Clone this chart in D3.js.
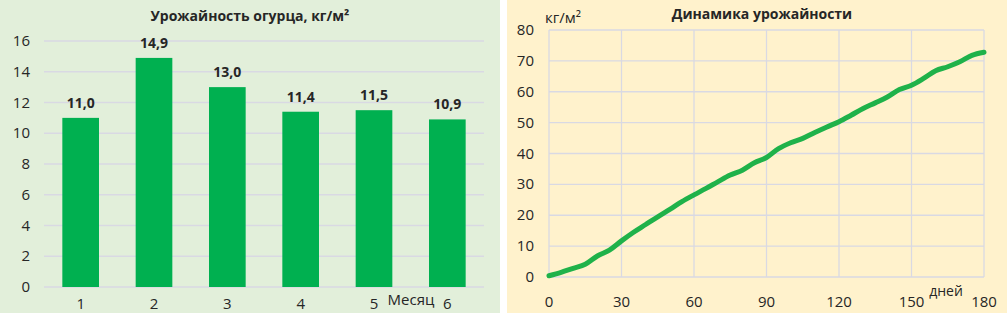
<!DOCTYPE html>
<html>
<head>
<meta charset="utf-8">
<script src="https://cdn.jsdelivr.net/npm/d3@7"></script>
<style>
  body { margin: 0; background: #fff; }
  svg { display: block; font-family: "Open Sans", "Noto Sans", sans-serif; }
  .grid line { stroke: #d9d9e3; stroke-width: 1.3; }
  .lbl { fill: #262626; font-size: 14px; }
</style>
</head>
<body>
<svg id="chart" width="1007" height="315"></svg>
<script>
// left chart: cucumber yield per month
const months = ["1", "2", "3", "4", "5", "6"];
const yieldVals = [11.0, 14.9, 13.0, 11.4, 11.5, 10.9];
const barTicks = [0, 2, 4, 6, 8, 10, 12, 14, 16];

// right chart: cumulative yield by day
const days = [0, 5, 10, 15, 20, 25, 30, 35, 40, 45, 50, 55, 60, 65, 70, 75, 80, 85, 90,
  95, 100, 105, 110, 115, 120, 125, 130, 135, 140, 145, 150, 155, 160, 165, 170, 175, 180];
const cumYield = [0.4, 1.5, 2.8, 4.1, 6.8, 8.7, 11.7, 14.5, 17.0, 19.5, 21.9, 24.4, 26.6, 28.7,
  30.9, 33.0, 34.6, 37.0, 38.7, 41.6, 43.5, 44.9, 46.8, 48.6, 50.3, 52.4, 54.6, 56.4, 58.3,
  60.7, 62.1, 64.3, 66.8, 68.1, 69.7, 71.8, 72.8];
const dayTicks = [0, 30, 60, 90, 120, 150, 180];
const lineTicks = [0, 10, 20, 30, 40, 50, 60, 70, 80];

const svg = d3.select("#chart");
const fmt = d => d.toFixed(1).replace(".", ",");

// ---- left panel ----
svg.append("rect").attr("x", 0).attr("y", 0).attr("width", 500).attr("height", 313).attr("fill", "#e2efda");

const xb = d3.scaleBand().domain(months).range([44, 484]).paddingInner(0.5).paddingOuter(0.25);
const yb = d3.scaleLinear().domain([0, 16]).range([287, 41]);

const gl = svg.append("g").attr("class", "grid");
gl.selectAll("line").data(barTicks).join("line")
  .attr("x1", 44).attr("x2", 484)
  .attr("y1", d => yb(d)).attr("y2", d => yb(d));

svg.append("g").selectAll("text").data(barTicks).join("text")
  .attr("class", "lbl").attr("x", 30).attr("y", d => yb(d) + 5)
  .attr("text-anchor", "end").style("font-size", "15px").text(d => d);

svg.append("g").selectAll("rect").data(yieldVals).join("rect")
  .attr("x", (d, i) => xb(months[i])).attr("width", xb.bandwidth())
  .attr("y", d => yb(d)).attr("height", d => yb(0) - yb(d))
  .attr("fill", "#00b050");

svg.append("g").selectAll("text").data(yieldVals).join("text")
  .attr("class", "lbl").attr("x", (d, i) => xb(months[i]) + xb.bandwidth() / 2)
  .attr("y", d => yb(d) - 10).attr("text-anchor", "middle")
  .style("font-weight", "bold").style("font-size", "14px").text(fmt);

svg.append("g").selectAll("text").data(months).join("text")
  .attr("class", "lbl").attr("x", d => xb(d) + xb.bandwidth() / 2).attr("y", 309)
  .attr("text-anchor", "middle").style("font-size", "15px").text(d => d);

svg.append("text").attr("class", "lbl").attr("x", 411).attr("y", 305)
  .attr("text-anchor", "middle").style("font-size", "15px").text("Месяц");

svg.append("text").attr("class", "lbl").attr("x", 250).attr("y", 21)
  .attr("text-anchor", "middle").style("font-weight", "bold").style("font-size", "14px")
  .text("Урожайность огурца, кг/м²");

// ---- right panel ----
svg.append("rect").attr("x", 507).attr("y", 0).attr("width", 500).attr("height", 313).attr("fill", "#fff2cc");

const xl = d3.scaleLinear().domain([0, 180]).range([549, 984]);
const yl = d3.scaleLinear().domain([0, 80]).range([277, 30]);

const gr = svg.append("g").attr("class", "grid");
gr.selectAll("line.h").data(lineTicks).join("line").attr("class", "h")
  .attr("x1", xl(0)).attr("x2", xl(180))
  .attr("y1", d => yl(d)).attr("y2", d => yl(d));
gr.selectAll("line.v").data(dayTicks).join("line").attr("class", "v")
  .attr("x1", d => xl(d)).attr("x2", d => xl(d))
  .attr("y1", yl(0)).attr("y2", yl(80));

svg.append("g").selectAll("text").data(lineTicks).join("text")
  .attr("class", "lbl").attr("x", 534).attr("y", d => yl(d) + 5)
  .attr("text-anchor", "end").style("font-size", "15px").text(d => d);

svg.append("g").selectAll("text").data(dayTicks).join("text")
  .attr("class", "lbl").attr("x", d => xl(d)).attr("y", 307)
  .attr("text-anchor", "middle").style("font-size", "15px").text(d => d);

svg.append("text").attr("class", "lbl").attr("x", 946).attr("y", 296)
  .attr("text-anchor", "middle").style("font-size", "14px").text("дней");

svg.append("text").attr("class", "lbl").attr("x", 545).attr("y", 23)
  .style("font-size", "15px").text("кг/м²");

svg.append("text").attr("class", "lbl").attr("x", 762).attr("y", 19)
  .attr("text-anchor", "middle").style("font-weight", "bold").style("font-size", "14px")
  .text("Динамика урожайности");

const line = d3.line().x((d, i) => xl(days[i])).y(d => yl(d)).curve(d3.curveCatmullRom);
svg.append("path").datum(cumYield).attr("d", line)
  .attr("fill", "none").attr("stroke", "#1fb24a").attr("stroke-width", 5)
  .attr("stroke-linecap", "round").attr("stroke-linejoin", "round");
</script>
</body>
</html>
